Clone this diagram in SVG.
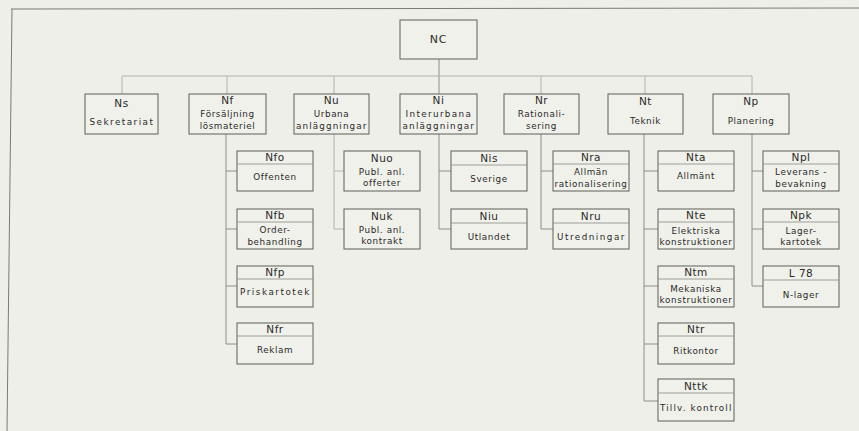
<svg xmlns="http://www.w3.org/2000/svg" width="859" height="431" viewBox="0 0 859 431">
<style>
.bg{fill:#efefe9}
.frame{stroke:#7a7a76;stroke-width:1;fill:none}
.box{fill:#f1f1ec;stroke:#5e5e5a;stroke-width:1}
.div{stroke:#8a8a86;stroke-width:0.8}
.con{stroke:#8e8e8a;stroke-width:1;fill:none}
.faint{stroke:#b4b4ae;stroke-width:1;fill:none}
text{font-family:"DejaVu Sans","Liberation Sans",sans-serif;fill:#2a2a28;text-anchor:middle}
.c{font-size:10.5px;letter-spacing:0.5px}
.n{font-size:8.8px;letter-spacing:0.6px}
.nc{font-size:11px;letter-spacing:0.8px}
</style>
<rect class="bg" x="0" y="0" width="859" height="431"/>
<g id="frame">
<line class="frame" x1="11" y1="9" x2="859" y2="8"/>
<line class="frame" x1="12" y1="9" x2="7" y2="431"/>
</g>
<g id="connectors">
<line class="con" x1="439" y1="59" x2="439" y2="94"/>
<polyline class="faint" points="122,94 122,76 752,76 752,94"/>
<line class="faint" x1="227" y1="76" x2="227" y2="94"/>
<line class="faint" x1="334" y1="76" x2="334" y2="94"/>
<line class="faint" x1="541" y1="76" x2="541" y2="94"/>
<line class="faint" x1="645" y1="76" x2="645" y2="94"/>
<polyline class="con" points="226,134 226,344 237,344"/>
<line class="con" x1="226" y1="171" x2="237" y2="171"/>
<line class="con" x1="226" y1="229" x2="237" y2="229"/>
<line class="con" x1="226" y1="286" x2="237" y2="286"/>
<polyline class="faint" points="334,134 334,229 344,229"/>
<line class="faint" x1="334" y1="171" x2="344" y2="171"/>
<polyline class="con" points="439,134 439,229 451,229"/>
<line class="con" x1="439" y1="171" x2="451" y2="171"/>
<polyline class="con" points="541,134 541,229 553,229"/>
<line class="con" x1="541" y1="171" x2="553" y2="171"/>
<polyline class="con" points="644,134 644,401 658,401"/>
<line class="con" x1="644" y1="171" x2="658" y2="171"/>
<line class="con" x1="644" y1="229" x2="658" y2="229"/>
<line class="con" x1="644" y1="286" x2="658" y2="286"/>
<line class="con" x1="644" y1="344" x2="658" y2="344"/>
<polyline class="con" points="752,134 752,286 763,286"/>
<line class="con" x1="752" y1="171" x2="763" y2="171"/>
<line class="con" x1="752" y1="229" x2="763" y2="229"/>
</g>
<g id="NC"><rect class="box" x="400" y="20" width="77" height="39"/><text class="nc" x="438.5" y="43">NC</text></g>
<g id="Ns"><rect class="box" x="85" y="94" width="73" height="40"/><text class="c" x="121.5" y="107">Ns</text><text class="n" x="121.5" y="125" textLength="64" lengthAdjust="spacing">Sekretariat</text></g>
<g id="Nf"><rect class="box" x="189" y="94" width="77" height="40"/><text class="c" x="227.5" y="104">Nf</text><text class="n" x="227.5" y="117">Försäljning</text><text class="n" x="227.5" y="129">lösmateriel</text></g>
<g id="Nu"><rect class="box" x="294" y="94" width="75" height="40"/><text class="c" x="331.5" y="104">Nu</text><text class="n" x="331.5" y="117">Urbana</text><text class="n" x="331.5" y="129" textLength="71" lengthAdjust="spacing">anläggningar</text></g>
<g id="Ni"><rect class="box" x="400" y="94" width="77" height="40"/><text class="c" x="438.5" y="104">Ni</text><text class="n" x="438.5" y="117" textLength="66" lengthAdjust="spacing">Interurbana</text><text class="n" x="438.5" y="129" textLength="72" lengthAdjust="spacing">anläggningar</text></g>
<g id="Nr"><rect class="box" x="504" y="94" width="75" height="40"/><text class="c" x="541.5" y="104">Nr</text><text class="n" x="541.5" y="117">Rationali-</text><text class="n" x="541.5" y="129">sering</text></g>
<g id="Nt"><rect class="box" x="608" y="94" width="75" height="40"/><text class="c" x="645.5" y="105">Nt</text><text class="n" x="645.5" y="124">Teknik</text></g>
<g id="Np"><rect class="box" x="713" y="94" width="76" height="40"/><text class="c" x="751" y="105">Np</text><text class="n" x="751" y="124">Planering</text></g>

<g id="Nfo"><rect class="box" x="237" y="151" width="76" height="40"/><line class="div" x1="237" y1="164" x2="313" y2="164"/><text class="c" x="275" y="161">Nfo</text><text class="n" x="275" y="180">Offenten</text></g>
<g id="Nfb"><rect class="box" x="237" y="209" width="76" height="40"/><line class="div" x1="237" y1="222" x2="313" y2="222"/><text class="c" x="275" y="219">Nfb</text><text class="n" x="275" y="233">Order-</text><text class="n" x="275" y="245">behandling</text></g>
<g id="Nfp"><rect class="box" x="237" y="266" width="76" height="41"/><line class="div" x1="237" y1="279" x2="313" y2="279"/><text class="c" x="275" y="276">Nfp</text><text class="n" x="275" y="295" textLength="70" lengthAdjust="spacing">Priskartotek</text></g>
<g id="Nfr"><rect class="box" x="237" y="323" width="76" height="41"/><line class="div" x1="237" y1="336" x2="313" y2="336"/><text class="c" x="275" y="333">Nfr</text><text class="n" x="275" y="353">Reklam</text></g>

<g id="Nuo"><rect class="box" x="344" y="151" width="76" height="40"/><text class="c" x="382" y="162">Nuo</text><text class="n" x="382" y="175">Publ. anl.</text><text class="n" x="382" y="186">offerter</text></g>
<g id="Nuk"><rect class="box" x="344" y="209" width="76" height="40"/><text class="c" x="382" y="220">Nuk</text><text class="n" x="382" y="233">Publ. anl.</text><text class="n" x="382" y="244">kontrakt</text></g>

<g id="Nis"><rect class="box" x="451" y="151" width="76" height="40"/><line class="div" x1="451" y1="165" x2="527" y2="165"/><text class="c" x="489" y="162">Nis</text><text class="n" x="489" y="182">Sverige</text></g>
<g id="Niu"><rect class="box" x="451" y="209" width="76" height="40"/><line class="div" x1="451" y1="223" x2="527" y2="223"/><text class="c" x="489" y="220">Niu</text><text class="n" x="489" y="240">Utlandet</text></g>

<g id="Nra"><rect class="box" x="553" y="151" width="76" height="40"/><line class="div" x1="553" y1="164" x2="629" y2="164"/><text class="c" x="591" y="161">Nra</text><text class="n" x="591" y="175">Allmän</text><text class="n" x="591" y="187" textLength="73" lengthAdjust="spacing">rationalisering</text></g>
<g id="Nru"><rect class="box" x="553" y="209" width="76" height="40"/><line class="div" x1="553" y1="223" x2="629" y2="223"/><text class="c" x="591" y="220">Nru</text><text class="n" x="591" y="240" textLength="68" lengthAdjust="spacing">Utredningar</text></g>

<g id="Nta"><rect class="box" x="658" y="151" width="76" height="40"/><line class="div" x1="658" y1="164" x2="734" y2="164"/><text class="c" x="696" y="161">Nta</text><text class="n" x="696" y="179">Allmänt</text></g>
<g id="Nte"><rect class="box" x="658" y="209" width="76" height="40"/><line class="div" x1="658" y1="222" x2="734" y2="222"/><text class="c" x="696" y="219">Nte</text><text class="n" x="696" y="234">Elektriska</text><text class="n" x="696" y="245" textLength="73" lengthAdjust="spacing">konstruktioner</text></g>
<g id="Ntm"><rect class="box" x="658" y="266" width="76" height="41"/><line class="div" x1="658" y1="279" x2="734" y2="279"/><text class="c" x="696" y="276">Ntm</text><text class="n" x="696" y="292">Mekaniska</text><text class="n" x="696" y="303" textLength="73" lengthAdjust="spacing">konstruktioner</text></g>
<g id="Ntr"><rect class="box" x="658" y="323" width="76" height="41"/><line class="div" x1="658" y1="336" x2="734" y2="336"/><text class="c" x="696" y="333">Ntr</text><text class="n" x="696" y="354">Ritkontor</text></g>
<g id="Nttk"><rect class="box" x="658" y="379" width="76" height="42"/><line class="div" x1="658" y1="393" x2="734" y2="393"/><text class="c" x="696" y="390">Nttk</text><text class="n" x="696" y="411" textLength="72" lengthAdjust="spacing">Tillv. kontroll</text></g>

<g id="Npl"><rect class="box" x="763" y="151" width="76" height="40"/><line class="div" x1="763" y1="164" x2="839" y2="164"/><text class="c" x="801" y="161">Npl</text><text class="n" x="801" y="175">Leverans -</text><text class="n" x="801" y="187">bevakning</text></g>
<g id="Npk"><rect class="box" x="763" y="209" width="76" height="40"/><line class="div" x1="763" y1="222" x2="839" y2="222"/><text class="c" x="801" y="219">Npk</text><text class="n" x="801" y="234">Lager-</text><text class="n" x="801" y="245">kartotek</text></g>
<g id="L78"><rect class="box" x="763" y="266" width="76" height="41"/><line class="div" x1="763" y1="280" x2="839" y2="280"/><text class="c" x="801" y="277">L 78</text><text class="n" x="801" y="298">N-lager</text></g>
</svg>
